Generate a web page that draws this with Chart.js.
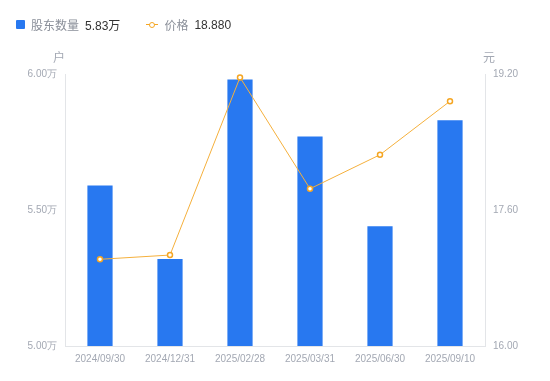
<!DOCTYPE html>
<html>
<head>
<meta charset="utf-8">
<script src="https://cdn.jsdelivr.net/npm/chart.js@4/dist/chart.umd.min.js"></script>
<style>
  body { margin: 0; background: #fff; font-family: "Liberation Sans", "Noto Sans CJK SC", sans-serif; }
  #wrap { position: relative; width: 550px; height: 381px; }
  #legend { position: absolute; left: 16px; top: 16px; font-size: 12px; display: flex; align-items: center; }
  .item { display: flex; align-items: center; margin-right: 26px; }
  .name { color: #8a8f99; margin-right: 6px; }
  .val { color: #333; }
  .sq { width: 9px; height: 9px; background: #2878f0; border-radius: 1px; margin-right: 6px; }
  .ln { position: relative; width: 12px; height: 8px; margin-right: 6px; }
  .ln:before { content: ""; position: absolute; left: 0; right: 0; top: 3.5px; height: 1px; background: #f5a623; }
  .ln:after { content: ""; position: absolute; left: 3px; top: 1px; width: 4px; height: 4px; border: 1.5px solid #f5a623; border-radius: 50%; background: #fff; }
</style>
</head>
<body>
<div id="wrap">
  <div id="legend">
    <div class="item"><span class="sq"></span><span class="name">股东数量</span><span class="val">5.83万</span></div>
    <div class="item"><span class="ln"></span><span class="name">价格</span><span class="val">18.880</span></div>
  </div>
  <canvas id="c" width="550" height="381"></canvas>
</div>
<script>
// 股东数量(万户) 与 价格(元)
const dates = ["2024/09/30", "2024/12/31", "2025/02/28", "2025/03/31", "2025/06/30", "2025/09/10"];
const holders = [5.59, 5.32, 5.98, 5.77, 5.44, 5.83];
const prices = [17.02, 17.07, 19.16, 17.85, 18.25, 18.88];
const leftTicks = [5.0, 5.5, 6.0];
const rightTicks = [16.0, 17.6, 19.2];

const tickFont = { family: "Liberation Sans", size: 10 };
const grey = "#a3a8b3";
const axisLine = "#e3e5e8";

const unitTitles = {
  id: "unitTitles",
  afterDraw(chart) {
    const ctx = chart.ctx;
    ctx.save();
    ctx.font = "12px 'Noto Sans CJK SC'";
    ctx.fillStyle = grey;
    ctx.textAlign = "center";
    ctx.textBaseline = "middle";
    ctx.fillText("户", 59, 57);
    ctx.fillText("元", 489, 57);
    ctx.restore();
  }
};

new Chart(document.getElementById("c"), {
  data: {
    labels: dates,
    datasets: [
      {
        type: "line",
        label: "价格",
        data: prices,
        yAxisID: "y1",
        borderColor: "#f5b03c",
        borderWidth: 1,
        pointRadius: 2.5,
        pointBorderWidth: 1.5,
        pointBackgroundColor: "#fff",
        pointBorderColor: "#f5a623",
        tension: 0,
        order: 0
      },
      {
        type: "bar",
        label: "股东数量",
        data: holders,
        yAxisID: "y",
        backgroundColor: "#2878f0",
        barPercentage: 0.36,
        categoryPercentage: 1,
        order: 1
      }
    ]
  },
  options: {
    responsive: false,
    animation: false,
    layout: { padding: { top: 74, left: 0, right: 0, bottom: 0 } },
    plugins: { legend: { display: false }, tooltip: { enabled: false } },
    scales: {
      x: {
        grid: { display: false, drawTicks: false },
        border: { color: axisLine },
        ticks: { color: grey, font: tickFont, padding: 7, maxRotation: 0 },
        afterFit(s) { s.height = 35; }
      },
      y: {
        position: "left",
        min: 5.0, max: 6.0,
        grid: { display: false, drawTicks: true, tickLength: 5, color: axisLine },
        border: { color: axisLine },
        afterBuildTicks(s) { s.ticks = leftTicks.map(v => ({ value: v })); },
        ticks: { color: grey, font: tickFont, padding: 3, callback: v => v.toFixed(2) + "万" },
        afterFit(s) { s.width = 65; }
      },
      y1: {
        position: "right",
        min: 16.0, max: 19.2,
        grid: { display: false, drawTicks: true, tickLength: 5, color: axisLine },
        border: { color: axisLine },
        afterBuildTicks(s) { s.ticks = rightTicks.map(v => ({ value: v })); },
        ticks: { color: grey, font: tickFont, padding: 3, callback: v => v.toFixed(2) },
        afterFit(s) { s.width = 65; }
      }
    }
  },
  plugins: [unitTitles]
});
</script>
</body>
</html>
